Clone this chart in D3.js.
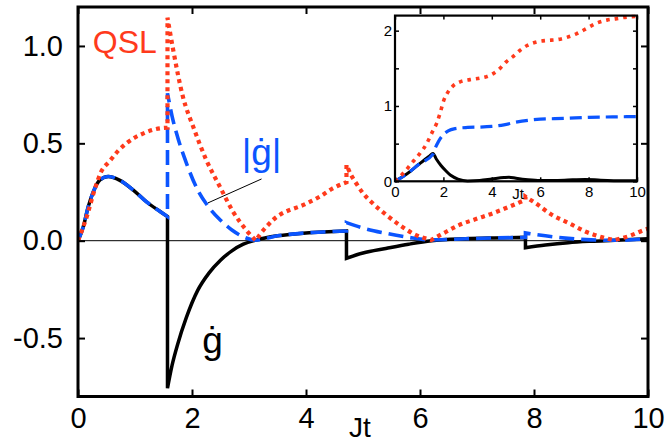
<!DOCTYPE html>
<html>
<head>
<meta charset="utf-8">
<script src="https://cdn.jsdelivr.net/npm/d3@7"></script>
<style>
  body { margin: 0; background: #fff; }
  svg { font-family: "Liberation Sans", Arial, sans-serif; }
</style>
</head>
<body>
<div class="chart__container"></div>
<script>
/*-------------------------------------DATA-------------------------------------*/

// main panel: each series is a list of segments, jumps happen between segments
const GDOT = [
    [[0, 0], [0.093, 0.072], [0.18, 0.175], [0.27, 0.252], [0.385, 0.312], [0.53, 0.33], [0.735, 0.31], [0.97, 0.26], [1.2, 0.2], [1.44, 0.15], [1.57, 0.124]],
    [[1.57, -0.757], [1.65, -0.64], [1.75, -0.53], [1.9, -0.395], [2.1, -0.255], [2.3, -0.165], [2.5, -0.1], [2.7, -0.052], [2.9, -0.018], [3.12, 0.003], [3.5, 0.025], [4.0, 0.04], [4.4, 0.046], [4.71, 0.05]],
    [[4.71, -0.09], [5.0, -0.063], [5.4, -0.04], [5.8, -0.018], [6.2, 0.0], [6.8, 0.01], [7.3, 0.014], [7.85, 0.017]],
    [[7.85, -0.036], [8.2, -0.022], [8.6, -0.01], [9.0, -0.003], [9.42, 0.002], [10, 0.01]]
];

const ABS_GDOT = [
    [[0, 0], [0.093, 0.072], [0.18, 0.175], [0.27, 0.252], [0.385, 0.312], [0.53, 0.33], [0.735, 0.31], [0.97, 0.26], [1.2, 0.2], [1.44, 0.15], [1.57, 0.124]],
    [[1.57, 0.757], [1.65, 0.64], [1.75, 0.53], [1.9, 0.4], [2.1, 0.26], [2.3, 0.17], [2.5, 0.105], [2.7, 0.055], [2.9, 0.02], [3.12, 0.003], [3.5, 0.025], [4.0, 0.04], [4.4, 0.046], [4.71, 0.05]],
    [[4.71, 0.093], [5.0, 0.065], [5.4, 0.038], [5.8, 0.017], [6.2, 0.004], [6.8, 0.01], [7.3, 0.014], [7.85, 0.017]],
    [[7.85, 0.04], [8.2, 0.025], [8.6, 0.012], [9.0, 0.004], [9.42, 0.002], [10, 0.01]]
];

const QSL = [
    [[0, 0], [0.15, 0.12], [0.3, 0.27], [0.4, 0.35], [0.56, 0.41], [0.7, 0.46], [0.85, 0.5], [1.0, 0.53], [1.14, 0.55], [1.3, 0.568], [1.44, 0.577], [1.57, 0.58]],
    [[1.57, 1.145], [1.67, 0.98], [1.84, 0.74], [2.02, 0.586], [2.25, 0.415], [2.49, 0.277], [2.72, 0.149], [2.95, 0.055], [3.12, 0.0]],
    [[3.12, 0.0], [3.2, 0.035], [3.3, 0.07], [3.42, 0.106], [4.0, 0.19], [4.24, 0.226], [4.47, 0.269], [4.71, 0.3]],
    [[4.71, 0.39], [4.79, 0.338], [4.88, 0.295], [5.0, 0.244], [5.17, 0.192], [5.41, 0.132], [5.64, 0.081], [5.93, 0.029], [6.2, 0.004]],
    [[6.2, 0.004], [6.46, 0.046], [6.69, 0.081], [6.98, 0.111], [7.27, 0.14], [7.57, 0.175], [7.85, 0.21]],
    [[7.85, 0.226], [8.03, 0.192], [8.32, 0.132], [8.62, 0.089], [8.91, 0.046], [9.2, 0.017], [9.4, 0.003]],
    [[9.4, 0.003], [9.67, 0.024], [9.93, 0.055], [10, 0.062]]
];

// inset: accumulated quantities
const INSET_QSL = [[0, 0], [0.34, 0.106], [0.69, 0.24], [1.03, 0.37], [1.31, 0.5], [1.52, 0.64], [1.72, 0.77], [1.86, 0.9], [2.0, 1.06], [2.2, 1.19], [2.41, 1.27], [2.69, 1.32], [3.1, 1.35], [3.51, 1.37], [3.79, 1.39], [4.06, 1.43], [4.34, 1.5], [4.61, 1.59], [4.89, 1.66], [5.17, 1.74], [5.44, 1.8], [5.85, 1.85], [6.27, 1.87], [6.68, 1.88], [7.09, 1.91], [7.51, 1.96], [7.92, 2.03], [8.33, 2.1], [8.75, 2.14], [9.16, 2.16], [9.57, 2.18], [10, 2.19]];
const INSET_ABS = [[0, 0], [0.5, 0.1], [1.0, 0.23], [1.57, 0.36], [1.65, 0.43], [1.8, 0.53], [2.0, 0.62], [2.2, 0.67], [2.5, 0.7], [3.0, 0.715], [3.5, 0.72], [4.0, 0.73], [4.5, 0.75], [5.0, 0.785], [5.5, 0.81], [6.0, 0.825], [7.0, 0.835], [8.0, 0.85], [9.0, 0.855], [10, 0.86]];
const INSET_G = [[0, 0], [0.5, 0.1], [1.0, 0.23], [1.4, 0.33], [1.57, 0.37], [1.7, 0.3], [1.9, 0.21], [2.1, 0.14], [2.3, 0.08], [2.6, 0.03], [3.0, 0.005], [3.5, 0.01], [4.0, 0.03], [4.5, 0.05], [4.71, 0.055], [5.0, 0.04], [5.5, 0.02], [6.0, 0.01], [7.0, 0.015], [7.85, 0.025], [8.5, 0.015], [9.5, 0.008], [10, 0.008]];

const X_TICKS = [0, 2, 4, 6, 8, 10];
const Y_TICKS = [-0.5, 0.0, 0.5, 1.0];
const Y_LABELS = ["-0.5", "0.0", "0.5", "1.0"];
const INSET_Y_TICKS = [0, 0.5, 1, 1.5, 2];
const INSET_Y_LABELS = [0, 1, 2];

// annotation anchors (data coordinates)
const POINTER = [[2.28, 0.194], [3.22, 0.317]];


/*-------------------------------------INIT-------------------------------------*/

const CHART__WIDTH = 665;
const CHART__HEIGHT = 444;
const RED = "#ff3a1c";
const BLUE = "#0b55ff";

const SVG = d3.select(".chart__container").append("svg")
    .attr("width", CHART__WIDTH).attr("height", CHART__HEIGHT);

const x = d3.scaleLinear().domain([0, 10]).range([78, 648]);
const y = d3.scaleLinear().domain([-0.8, 1.2]).range([396.5, 7]);

const ix = d3.scaleLinear().domain([0, 10]).range([395, 637]);
const iy = d3.scaleLinear().domain([0, 2.2]).range([181.3, 15.6]);

const segPath = (line, segs) => segs.map((s, i) => {
    const d = line(s);
    return i ? "L" + d.slice(1) : d;
}).join("");


/*-------------------------------------Main graph-------------------------------------*/

SVG.append("clipPath").attr("id", "clipMain").append("rect")
    .attr("x", x(0)).attr("y", y(1.2)).attr("width", x(10) - x(0)).attr("height", y(-0.8) - y(1.2));

const plot = SVG.append("g").attr("clip-path", "url(#clipMain)");

// zero line
plot.append("line")
    .attr("x1", x(0)).attr("x2", x(10)).attr("y1", y(0)).attr("y2", y(0))
    .attr("stroke", "#000").attr("stroke-width", 1);

const line = d3.line().x(d => x(d[0])).y(d => y(d[1])).curve(d3.curveMonotoneX);

plot.append("path").attr("d", segPath(line, GDOT))
    .attr("fill", "none").attr("stroke", "#000").attr("stroke-width", 3.5);
plot.append("path").attr("d", segPath(line, ABS_GDOT))
    .attr("fill", "none").attr("stroke", BLUE).attr("stroke-width", 3.6)
    .attr("stroke-dasharray", "15,7");
plot.append("path").attr("d", segPath(line, QSL))
    .attr("fill", "none").attr("stroke", RED).attr("stroke-width", 4.2)
    .attr("stroke-dasharray", "4,4");

// axes, ticks inward
const axisFont = g => g.selectAll("text").attr("font-size", 29).attr("fill", "#000")
    .attr("font-family", "Liberation Sans, Arial, sans-serif");

SVG.append("g").attr("transform", `translate(0,${y(-0.8)})`)
    .call(d3.axisBottom(x).tickValues(X_TICKS).tickSize(-7).tickPadding(11).tickSizeOuter(0))
    .call(axisFont);
SVG.append("g").attr("transform", `translate(0,${y(1.2)})`)
    .call(d3.axisTop(x).tickValues(X_TICKS).tickSize(-7).tickFormat("").tickSizeOuter(0));
SVG.append("g").attr("transform", `translate(${x(0)},0)`)
    .call(d3.axisLeft(y).tickValues(Y_TICKS).tickSize(-7).tickPadding(15)
        .tickFormat((d, i) => Y_LABELS[i]).tickSizeOuter(0))
    .call(axisFont);
SVG.append("g").attr("transform", `translate(${x(10)},0)`)
    .call(d3.axisRight(y).tickValues(Y_TICKS).tickSize(-7).tickFormat("").tickSizeOuter(0));

SVG.selectAll(".domain").remove();
SVG.selectAll(".tick line").attr("stroke-width", 2);

SVG.append("rect")
    .attr("x", x(0)).attr("y", y(1.2)).attr("width", x(10) - x(0)).attr("height", y(-0.8) - y(1.2))
    .attr("fill", "none").attr("stroke", "#000").attr("stroke-width", 3);

SVG.append("text").attr("x", 360).attr("y", 437)
    .attr("text-anchor", "middle").attr("font-size", 28).text("Jt");

// labels
SVG.append("text").attr("x", x(0.26)).attr("y", y(0.965))
    .attr("fill", RED).attr("font-size", 32).text("QSL");
SVG.append("text").attr("x", x(3.22)).attr("y", y(0.39))
    .attr("text-anchor", "middle").attr("fill", BLUE).attr("font-size", 37).text("|ġ|");
SVG.append("text").attr("x", x(2.36)).attr("y", y(-0.577))
    .attr("text-anchor", "middle").attr("fill", "#000").attr("font-size", 37).text("ġ");
SVG.append("line")
    .attr("x1", x(POINTER[0][0])).attr("y1", y(POINTER[0][1]))
    .attr("x2", x(POINTER[1][0])).attr("y2", y(POINTER[1][1]))
    .attr("stroke", "#000").attr("stroke-width", 1);


/*-------------------------------------Inset-------------------------------------*/

const inset = SVG.append("g");

inset.append("rect")
    .attr("x", ix(0)).attr("y", iy(2.2)).attr("width", ix(10) - ix(0)).attr("height", iy(0) - iy(2.2))
    .attr("fill", "#fff");

const iline = d3.line().x(d => ix(d[0])).y(d => iy(d[1])).curve(d3.curveMonotoneX);

inset.append("path").attr("d", iline(INSET_G))
    .attr("fill", "none").attr("stroke", "#000").attr("stroke-width", 3);
inset.append("path").attr("d", iline(INSET_ABS))
    .attr("fill", "none").attr("stroke", BLUE).attr("stroke-width", 3.2)
    .attr("stroke-dasharray", "12,6");
inset.append("path").attr("d", iline(INSET_QSL))
    .attr("fill", "none").attr("stroke", RED).attr("stroke-width", 3.6)
    .attr("stroke-dasharray", "3.6,5");

const insetFont = g => g.selectAll("text").attr("font-size", 15).attr("fill", "#000")
    .attr("font-family", "Liberation Sans, Arial, sans-serif");

inset.append("g").attr("transform", `translate(0,${iy(0)})`)
    .call(d3.axisBottom(ix).tickValues(X_TICKS).tickSize(-4).tickPadding(5).tickSizeOuter(0))
    .call(insetFont);
inset.append("g").attr("transform", `translate(0,${iy(2.2)})`)
    .call(d3.axisTop(ix).tickValues(X_TICKS).tickSize(-4).tickFormat("").tickSizeOuter(0));
inset.append("g").attr("transform", `translate(${ix(0)},0)`)
    .call(d3.axisLeft(iy).tickValues(INSET_Y_TICKS).tickSize(-4).tickPadding(3)
        .tickFormat(d => INSET_Y_LABELS.includes(d) ? d : "").tickSizeOuter(0))
    .call(insetFont);
inset.append("g").attr("transform", `translate(${ix(10)},0)`)
    .call(d3.axisRight(iy).tickValues(INSET_Y_TICKS).tickSize(-4).tickFormat("").tickSizeOuter(0));

inset.selectAll(".domain").remove();
inset.selectAll(".tick line").attr("stroke-width", 1.5);

inset.append("rect")
    .attr("x", ix(0)).attr("y", iy(2.2)).attr("width", ix(10) - ix(0)).attr("height", iy(0) - iy(2.2))
    .attr("fill", "none").attr("stroke", "#000").attr("stroke-width", 2.2);

inset.append("text").attr("x", 518).attr("y", 199)
    .attr("text-anchor", "middle").attr("font-size", 15).text("Jt");
</script>
</body>
</html>
